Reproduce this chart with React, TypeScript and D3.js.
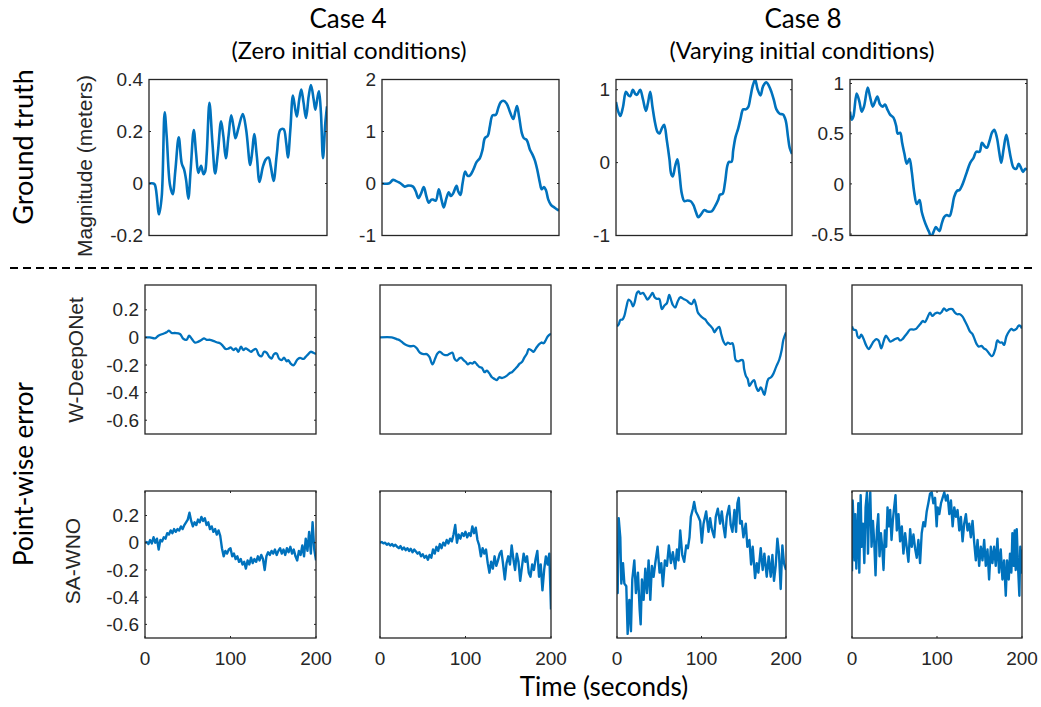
import * as d3 from "d3";

// ---- text ----
const caseTitles = ["Case 4", "Case 8"];
const caseSubtitles = ["(Zero initial conditions)", "(Varying initial conditions)"];
const groupLabels = ["Ground truth", "Point-wise error"];
const rowLabels = ["Magnitude (meters)", "W-DeepONet", "SA-WNO"];
const xLabel = "Time (seconds)";

// ---- ticks ----
const timeTicks = [0, 100, 200];
const gtTicks = [
  [-0.2, 0, 0.2, 0.4],
  [-1, 0, 1, 2],
  [-1, 0, 1],
  [-0.5, 0, 0.5, 1],
];
const errTicks = [0.2, 0, -0.2, -0.4, -0.6];

// ---- ground truth: [time, magnitude] ----
const gtCase4A: [number, number][] = [
  [0, 0], [5, 0], [6.8, -0.006], [11.3, -0.119], [14.3, -0.05], [17.6, 0.274], [19.9, 0.18], [23.6, -0.006],
  [26.6, -0.041], [29.6, 0.05], [33.4, 0.178], [36.8, 0.077], [39.4, 0.054], [41.7, 0.013], [44.2, -0.058],
  [46.8, 0.052], [50.3, 0.206], [52.9, 0.116], [55.5, 0.041], [58.5, 0.068], [61.2, 0.036], [63, 0.045],
  [64.9, 0.116], [67.9, 0.31], [71.3, 0.155], [74.3, 0.039], [77.3, 0.116], [81, 0.239], [83.6, 0.181],
  [86.3, 0.097], [89.3, 0.181], [92.3, 0.262], [94.9, 0.219], [97.2, 0.174], [100.5, 0.213], [105.4, 0.267],
  [109.2, 0.206], [113.7, 0.071], [116, 0.123], [118.2, 0.19], [121.2, 0.103], [124.2, 0.006], [128, 0.065],
  [131.3, 0.093], [134.3, 0.1], [136.9, 0.065], [140, 0.01], [143.7, 0.116], [147.5, 0.206], [151.2, 0.209],
  [154.2, 0.155], [156.1, 0.1], [158.8, 0.206], [161.7, 0.338], [164.4, 0.284], [166.2, 0.258], [168.8, 0.323],
  [171.1, 0.361], [173.7, 0.31], [176.4, 0.252], [179.4, 0.335], [182, 0.379], [185, 0.323], [186.9, 0.284],
  [189.5, 0.335], [191, 0.355], [193.2, 0.271], [195.5, 0.097], [198.1, 0.232], [200, 0.297],
];
const gtCase4B: [number, number][] = [
  [0, 0], [7.5, 0], [9.4, 0.02], [12.5, 0.07], [15.5, 0.05], [19.2, 0.02], [21.9, -0.01], [25.7, -0.06],
  [29.4, -0.04], [35.1, -0.06], [38.1, -0.15], [41.1, -0.28], [44.2, -0.19], [47.2, -0.07], [50.2, -0.25],
  [52.8, -0.37], [55.8, -0.31], [57.7, -0.31], [60.8, -0.33], [64.2, -0.11], [67.2, -0.31], [69.8, -0.46],
  [72.8, -0.28], [75.5, -0.17], [77.7, -0.24], [80.4, -0.19], [84.2, -0.045], [86.1, -0.15], [88.7, -0.22],
  [91, 0], [94, 0.23], [96.6, 0.15], [99.2, 0.15], [103, 0.26], [106.8, 0.41], [110.6, 0.49], [113.6, 0.65],
  [116.2, 0.87], [119.6, 0.92], [121.9, 1.1], [124.9, 1.31], [128.7, 1.32], [131.3, 1.45], [134, 1.56],
  [137, 1.59], [140.8, 1.54], [144.5, 1.38], [148.3, 1.24], [150.6, 1.38], [152.6, 1.49], [154.9, 1.29],
  [158, 0.97], [160.3, 0.87], [163.4, 0.84], [167.2, 0.65], [170.2, 0.55], [172.8, 0.44], [175.5, 0.26],
  [178.5, 0.006], [180.4, -0.11], [183, -0.07], [185.3, -0.13], [187.9, -0.31], [190.9, -0.41], [195.5, -0.47],
  [200, -0.52],
];
const gtCase8A: [number, number][] = [
  [0, 0.83], [2.3, 0.71], [4.9, 0.64], [7.9, 0.76], [11.3, 0.97], [14.3, 0.92], [16.2, 0.91], [19.2, 1.0],
  [21.9, 0.94], [23.8, 0.93], [27.5, 1.0], [30.6, 0.87], [34, 0.71], [36.2, 0.81], [38.9, 0.97], [41.5, 0.76],
  [44.5, 0.54], [47.2, 0.42], [49.4, 0.4], [52.1, 0.47], [54.7, 0.52], [57.7, 0.31], [60.8, 0.04], [62.6, -0.15],
  [64.5, -0.19], [67.2, -0.05], [69.8, 0.045], [72.1, -0.15], [74.7, -0.42], [77.7, -0.53], [81.1, -0.52],
  [84.9, -0.53], [87.9, -0.58], [90.6, -0.67], [93.6, -0.75], [96.6, -0.71], [100.4, -0.65], [103.8, -0.67],
  [108.7, -0.67], [112.5, -0.6], [116.2, -0.51], [118.1, -0.44], [121.1, -0.43], [123.8, -0.28], [126.4, -0.05],
  [128.3, 0.01], [131.3, 0.01], [133.2, 0.17], [135.8, 0.35], [138.9, 0.47], [141.5, 0.6], [144.5, 0.73],
  [147.5, 0.73], [150.2, 0.76], [152.8, 0.9], [155.1, 1.04], [158.1, 1.14], [160.8, 1.01], [164.2, 0.92],
  [167.2, 1.05], [170.9, 1.1], [173.9, 1.05], [176.6, 0.97], [179.6, 0.85], [182.3, 0.73], [186, 0.67],
  [189.8, 0.66], [192.8, 0.58], [195.5, 0.35], [197.4, 0.2], [200, 0.12],
];
const gtCase8B: [number, number][] = [
  [0, 0.72], [1.9, 0.64], [3.8, 0.67], [7.5, 0.9], [10.6, 0.82], [13.2, 0.72], [15.8, 0.77], [20, 0.96],
  [22.6, 0.87], [25.7, 0.77], [28.3, 0.82], [30.9, 0.87], [34, 0.79], [37, 0.77], [39.6, 0.79], [42.3, 0.74],
  [45.3, 0.69], [49.1, 0.66], [52.1, 0.58], [54, 0.5], [56.6, 0.51], [58.9, 0.41], [61.5, 0.3], [64.2, 0.2],
  [67.2, 0.25], [69.8, 0.12], [72.5, -0.08], [75.5, -0.2], [78.5, -0.16], [81.1, -0.28], [83.8, -0.36],
  [86.8, -0.43], [89.4, -0.48], [91.7, -0.53], [94.3, -0.48], [97, -0.43], [98.9, -0.45], [101.1, -0.47],
  [103.8, -0.39], [106.4, -0.33], [109.4, -0.31], [112.5, -0.32], [115.1, -0.25], [117.7, -0.13], [120.8, -0.07],
  [123.8, -0.06], [126.4, -0.02], [129.4, 0.05], [132.1, 0.12], [135.8, 0.21], [139.6, 0.26], [142.6, 0.32],
  [146.4, 0.32], [149.1, 0.41], [151.7, 0.38], [154.7, 0.36], [157.7, 0.43], [160.4, 0.51], [163, 0.54],
  [166, 0.46], [168.7, 0.31], [170.9, 0.21], [173.6, 0.35], [176.6, 0.49], [179.2, 0.38], [181.9, 0.25],
  [184.9, 0.16], [187.9, 0.15], [190.6, 0.2], [193.2, 0.16], [195.5, 0.12], [198.1, 0.15], [200, 0.14],
];

// ---- W-DeepONet point-wise error: [time, error] ----
const wdonCase4A: [number, number][] = [
  [0, 0], [5.8, 0], [11.7, -0.007], [15.6, 0.012], [21.4, 0.027], [25.3, 0.037], [28, 0.049], [31.2, 0.032],
  [35, 0.032], [40.9, 0.025], [44.8, -0.01], [48.7, -0.017], [51.5, 0.012], [54.6, -0.01], [58.5, -0.037],
  [62.4, -0.03], [66.3, -0.017], [69, -0.007], [72.1, -0.017], [76, -0.017], [79.9, -0.025], [83.8, -0.035],
  [87.7, -0.042], [90.8, -0.059], [94.3, -0.084], [97.5, -0.081], [100.2, -0.072], [103.3, -0.091],
  [106.4, -0.079], [109.2, -0.104], [112.3, -0.067], [115, -0.091], [117.7, -0.079], [120.9, -0.091],
  [124, -0.104], [126.7, -0.091], [129.8, -0.084], [133.3, -0.128], [136.5, -0.136], [139.2, -0.104],
  [142.3, -0.111], [145.4, -0.141], [148.1, -0.153], [150.9, -0.121], [154, -0.116], [156.7, -0.153],
  [159.8, -0.165], [162.6, -0.146], [165.7, -0.173], [167.6, -0.165], [170.4, -0.19], [173.5, -0.202],
  [175.4, -0.19], [178.2, -0.16], [181.3, -0.148], [185.2, -0.156], [187.9, -0.141], [191, -0.121],
  [193.8, -0.104], [196.9, -0.111], [200, -0.121],
];
const wdonCase4B: [number, number][] = [
  [0, 0], [13.7, 0], [19.5, -0.012], [23.4, -0.022], [27.3, -0.042], [31.3, -0.057], [35.2, -0.064],
  [39.8, -0.062], [43, -0.079], [46.9, -0.111], [50.8, -0.121], [54.7, -0.121], [57.8, -0.141], [61.3, -0.195],
  [64.5, -0.153], [67.2, -0.116], [70.3, -0.104], [73.4, -0.121], [76.2, -0.128], [78.9, -0.128], [82, -0.116],
  [84.8, -0.111], [87.1, -0.153], [89.8, -0.17], [92.6, -0.153], [94.9, -0.146], [97.7, -0.165], [100.4, -0.178],
  [102.7, -0.195], [105.5, -0.185], [108.2, -0.19], [110.5, -0.178], [113.3, -0.195], [116.4, -0.215],
  [119.1, -0.22], [122.3, -0.252], [125, -0.24], [127.7, -0.259], [130.9, -0.289], [134, -0.301], [136.7, -0.309],
  [139.5, -0.289], [142.6, -0.294], [145.3, -0.289], [148.4, -0.277], [151.6, -0.259], [154.3, -0.252],
  [157, -0.235], [160.2, -0.215], [163.3, -0.19], [166, -0.178], [168.8, -0.146], [171.9, -0.116],
  [173.8, -0.086], [176.6, -0.091], [179.7, -0.104], [182.4, -0.079], [185.5, -0.054], [188.7, -0.037],
  [191.4, -0.042], [193.4, -0.025], [196.1, 0.007], [200, 0.027],
];
const wdonCase8A: [number, number][] = [
  [0, 0.081], [2, 0.094], [3.9, 0.126], [6.7, 0.131], [8.7, 0.156], [11, 0.217], [13.8, 0.274], [16.5, 0.259],
  [18.9, 0.225], [20.9, 0.254], [23.6, 0.323], [25.6, 0.333], [27.6, 0.316], [30.7, 0.323], [33.5, 0.299],
  [36.2, 0.274], [39.4, 0.299], [42.1, 0.323], [44.5, 0.291], [47.2, 0.279], [50, 0.279], [53.1, 0.205],
  [55.9, 0.23], [59.1, 0.249], [61.8, 0.309], [64.2, 0.267], [66.1, 0.235], [68.9, 0.217], [71.7, 0.259],
  [74.8, 0.291], [78.7, 0.279], [82.7, 0.267], [85.8, 0.249], [88.6, 0.242], [91.3, 0.274], [93.7, 0.23],
  [95.7, 0.18], [98.4, 0.16], [101.2, 0.143], [104.3, 0.131], [107.1, 0.106], [110.2, 0.086], [113.4, 0.062],
  [115.4, 0.037], [118.1, 0.062], [120.9, 0.077], [123.2, 0.027], [126, -0.03], [128.7, -0.054], [131.1, -0.037],
  [133.9, -0.047], [136.6, -0.042], [138.6, -0.091], [140.6, -0.165], [143.7, -0.173], [146.5, -0.165],
  [148.8, -0.165], [150.4, -0.227], [152.4, -0.277], [154.7, -0.301], [156.7, -0.351], [159.4, -0.326],
  [162.2, -0.309], [164.6, -0.358], [167.3, -0.388], [170.1, -0.363], [172.4, -0.388], [174.4, -0.417],
  [176.4, -0.363], [179.1, -0.301], [182.3, -0.289], [185, -0.264], [188.2, -0.215], [192.1, -0.16],
  [194.9, -0.091], [196.9, -0.017], [200, 0.037],
];
const wdonCase8B: [number, number][] = [
  [0, 0.081], [2, 0.057], [4.7, 0.052], [6.6, 0.007], [8.6, -0.005], [10.9, 0.02], [13.7, -0.012], [16.4, -0.054],
  [19.5, -0.084], [22.3, -0.062], [25.4, -0.03], [28.5, -0.012], [31.3, -0.022], [34.4, -0.079], [37.1, -0.03],
  [39.8, 0.012], [42.2, -0.005], [44.9, -0.03], [48, -0.022], [50.8, -0.012], [53.9, -0.005], [56.6, -0.022],
  [59.4, -0.012], [62.5, 0.012], [65.2, 0.032], [68.4, 0.057], [72.3, 0.057], [75.4, 0.062], [78.1, 0.081],
  [80.9, 0.101], [83.2, 0.119], [85.9, 0.111], [88.7, 0.143], [91.8, 0.18], [94.5, 0.156], [97.7, 0.173],
  [100.4, 0.18], [103.5, 0.173], [105.5, 0.185], [108.2, 0.21], [111.3, 0.193], [114.5, 0.205], [118, 0.205],
  [121.1, 0.18], [123.8, 0.168], [127, 0.168], [130.1, 0.151], [132.8, 0.119], [135.9, 0.081], [138.7, 0.044],
  [141.4, 0.027], [143.8, -0.005], [146.5, -0.047], [149.2, -0.067], [152.3, -0.062], [155.1, -0.079],
  [158.2, -0.091], [161.3, -0.116], [164.1, -0.136], [166, -0.128], [168.8, -0.079], [171.1, -0.022],
  [173.8, -0.037], [176.6, -0.037], [178.9, -0.054], [181.6, 0.007], [184.8, 0.044], [187.5, 0.062],
  [190.2, 0.052], [193.4, 0.062], [196.1, 0.086], [198.4, 0.081], [200, 0.064],
];

// ---- SA-WNO point-wise error ----
// sampled every 2 s from 0 to 200
const sawnoCase4A = [
  0, 0.005, -0.01, 0.02, -0.005, 0.04, 0, 0.03, -0.05, 0.02, 0.01, 0.04, 0.03, 0.07, 0.06, 0.09, 0.07, 0.1, 0.08,
  0.1, 0.09, 0.12, 0.1, 0.13, 0.15, 0.17, 0.22, 0.16, 0.12, 0.15, 0.13, 0.17, 0.15, 0.19, 0.16, 0.18, 0.13, 0.15,
  0.1, 0.12, 0.08, 0.1, 0.06, 0.09, 0.05, -0.04, -0.1, -0.06, -0.08, -0.05, -0.04, -0.1, -0.08, -0.12, -0.1,
  -0.14, -0.12, -0.16, -0.14, -0.19, -0.13, -0.16, -0.11, -0.15, -0.12, -0.14, -0.1, -0.13, -0.09, -0.12, -0.2,
  -0.1, -0.07, -0.09, -0.06, -0.08, -0.05, -0.09, -0.06, -0.04, -0.08, -0.05, -0.09, -0.04, -0.07, -0.03, -0.08,
  -0.05, -0.1, -0.13, -0.06, -0.09, -0.02, -0.1, 0.03, -0.06, 0.08, -0.08, 0.15, -0.05, -0.13,
];
const sawnoCase4B = [
  0, 0.005, -0.005, 0, -0.015, -0.005, -0.02, -0.01, -0.025, -0.015, -0.03, -0.04, -0.025, -0.05, -0.035, -0.055,
  -0.04, -0.06, -0.045, -0.07, -0.05, -0.065, -0.08, -0.07, -0.1, -0.085, -0.11, -0.095, -0.125, -0.09, -0.11,
  -0.05, -0.08, -0.03, -0.06, -0.01, -0.04, 0, -0.02, 0.02, -0.005, 0.03, 0.01, 0.06, 0.13, 0, 0.06, 0.03, 0.07,
  0.05, 0.08, 0.04, 0.07, 0.05, 0.12, 0.07, 0.11, 0.02, -0.02, -0.1, -0.04, -0.08, -0.05, -0.15, -0.22, -0.14,
  -0.19, -0.1, -0.17, -0.13, -0.08, -0.06, -0.16, -0.27, -0.15, -0.1, -0.16, -0.02, -0.12, -0.2, -0.08, -0.14,
  -0.28, -0.18, -0.08, -0.14, -0.1, -0.22, -0.25, -0.16, -0.2, -0.12, -0.06, -0.25, -0.16, -0.35, -0.2, -0.1,
  -0.16, -0.08, -0.49,
];
const sawnoCase8A: [number, number][] = [
  [0, -0.1], [0.8, -0.37], [2, 0.18], [3.9, 0.04], [5.1, -0.3], [7.1, -0.15], [8.7, -0.3], [11, -0.32],
  [12.6, -0.67], [14.6, -0.42], [16.5, -0.65], [18.1, -0.27], [20.5, -0.13], [22.4, -0.37], [24.8, -0.22],
  [26.8, -0.49], [28, -0.6], [29.5, -0.27], [31.5, -0.42], [33.5, -0.19], [35.4, -0.37], [37.4, -0.13],
  [39.4, -0.42], [41.3, -0.17], [43.3, -0.25], [45.3, -0.15], [48, -0.03], [50.4, -0.22], [52.4, -0.15],
  [54.3, -0.32], [56.7, -0.13], [59.1, -0.17], [61.4, -0.02], [63.8, -0.15], [66.1, -0.07], [68.9, -0.19],
  [70.9, -0.05], [72.8, -0.13], [74.8, 0.09], [77.2, -0.09], [79.5, -0.14], [81.9, -0.02], [83.9, -0.04],
  [85.8, 0.04], [87.4, 0.19], [89.8, 0.25], [91.3, 0.3], [93.3, 0.23], [95.7, 0.2], [98.4, 0.16], [100.4, 0],
  [102.4, 0.14], [105.5, 0.23], [108.3, 0.08], [110.2, 0.18], [112.2, 0.1], [115, 0.04], [116.9, 0.19],
  [119.3, 0.25], [122, 0.14], [124, 0.23], [126, 0.12], [128, 0.04], [129.9, 0.19], [132.7, 0.27], [134.6, 0.13],
  [136.6, 0.08], [139, 0.24], [140.9, 0.08], [142.5, 0.29], [144.1, 0.33], [145.7, 0.14], [147.6, 0.16],
  [149.6, 0.04], [152.4, 0.14], [154.3, -0.03], [156.7, 0.02], [158.7, -0.16], [160.6, -0.03], [163.4, -0.26],
  [165.4, -0.15], [167.3, -0.22], [170.1, -0.04], [172.4, -0.2], [174.4, -0.08], [177.2, -0.25], [179.5, -0.1],
  [181.9, -0.25], [183.9, -0.09], [185.8, -0.28], [187.8, -0.17], [189.8, 0.03], [191.7, -0.08], [193.7, -0.34],
  [195.7, -0.02], [197.6, -0.15], [200, -0.2],
];
const sawnoCase8B: [number, number][] = [
  [0, -0.21], [0.8, 0.31], [2, 0.12], [3.1, -0.13], [3.9, 0.21], [5.1, -0.19], [6.3, 0.02], [7.4, 0.29],
  [8.6, -0.22], [10.2, 0.35], [11.3, -0.03], [12.9, 0.14], [14.5, -0.15], [16, 0.26], [17.6, 0.37], [18.8, -0.08],
  [19.9, 0.21], [21.5, 0.37], [23, -0.03], [24.6, 0.16], [26.2, 0], [27.7, -0.24], [29.3, 0.09], [30.9, 0.21],
  [32.4, -0.1], [34, 0.07], [35.5, -0.03], [37.1, -0.2], [38.7, 0.09], [40.2, -0.03], [41.8, 0.26], [43.4, 0.12],
  [44.9, 0.24], [46.5, 0.02], [48, 0.16], [49.6, 0.26], [51.2, 0.35], [52.7, 0.09], [54.7, 0.21], [56.6, 0.01],
  [58.6, 0.12], [60.5, -0.08], [62.5, 0.07], [64.5, -0.04], [66.4, -0.14], [68.4, 0.1], [70.3, -0.03],
  [72.3, 0.06], [74.2, -0.04], [76.2, -0.11], [78.1, 0.02], [80.1, -0.15], [82, 0.07], [84, 0.15], [85.9, 0.12],
  [87.9, 0.23], [89.8, 0.29], [91.8, 0.36], [93.8, 0.37], [95.7, 0.29], [97.7, 0.33], [99.6, 0.12], [100.8, 0.26],
  [102.7, 0.21], [104.7, 0.29], [106.6, 0.33], [108.6, 0.37], [110.5, 0.31], [112.5, 0.35], [114.5, 0.21],
  [116.4, 0.31], [118.4, 0.12], [120.3, 0.26], [122.3, 0.19], [124.2, 0.24], [126.2, 0.09], [128.1, 0.19],
  [130.1, 0.01], [132, 0.14], [134, 0.21], [135.9, 0.09], [137.9, 0.14], [139.8, 0.04], [141.8, 0.16],
  [143.8, 0], [145.7, -0.13], [147.7, 0.02], [149.6, -0.17], [151.6, -0.03], [153.5, -0.13], [155.5, 0.02],
  [157.4, -0.17], [159.4, -0.05], [161.3, -0.27], [163.3, -0.03], [165.2, -0.15], [167.2, -0.03], [169.1, -0.17],
  [171.1, 0.03], [173, -0.22], [175, -0.05], [177, -0.27], [178.9, -0.13], [180.9, -0.39], [182.4, -0.13],
  [184.4, -0.27], [185.9, -0.08], [187.5, -0.22], [188.7, 0.07], [190.2, -0.17], [191.4, 0.09], [192.6, -0.2],
  [193.8, 0.1], [195.3, -0.17], [196.9, -0.39], [198, -0.03], [199.2, -0.22], [200, -0.05],
];

const everyTwoSeconds = (vals: number[]): [number, number][] =>
  vals.map((v, i) => [i * 2, v]);

const W = 1041;
const H = 707;
const blue = "#0072BD";
const ink = "#262626";
const tickFont = "'Liberation Sans', Arial, sans-serif";
const titleFont = "Lato, 'Open Sans', sans-serif";

type PanelProps = {
  id: string;
  x0: number;
  x1: number;
  y0: number;
  y1: number;
  yDomain: [number, number];
  data: [number, number][];
  yTicks?: number[];
  xTicks?: boolean;
  smooth?: boolean;
  lw: number;
};

function Panel({ id, x0, x1, y0, y1, yDomain, data, yTicks, xTicks, smooth, lw }: PanelProps) {
  const x = d3.scaleLinear().domain([0, 200]).range([x0, x1]);
  const y = d3.scaleLinear().domain(yDomain).range([y1, y0]);
  const line = d3
    .line<[number, number]>()
    .x((d) => x(d[0]))
    .y((d) => y(d[1]))
    .curve(smooth ? d3.curveCatmullRom.alpha(0.5) : d3.curveLinear);
  const tl = 2;
  return (
    <g>
      <clipPath id={id}>
        <rect x={x0} y={y0} width={x1 - x0} height={y1 - y0} />
      </clipPath>
      <path
        d={line(data) || ""}
        fill="none"
        stroke={blue}
        strokeWidth={lw}
        strokeLinejoin="round"
        clipPath={`url(#${id})`}
      />
      {yTicks &&
        yTicks.map((t) => (
          <g key={t}>
            <line x1={x0} x2={x0 + tl} y1={y(t)} y2={y(t)} stroke={ink} />
            <line x1={x1} x2={x1 - tl} y1={y(t)} y2={y(t)} stroke={ink} />
            <text
              x={x0 - 6}
              y={y(t)}
              dy="0.35em"
              textAnchor="end"
              fontSize={19}
              fontFamily={tickFont}
              fill={ink}
            >
              {String(t)}
            </text>
          </g>
        ))}
      {xTicks &&
        timeTicks.map((t) => (
          <g key={t}>
            <line x1={x(t)} x2={x(t)} y1={y1} y2={y1 - tl} stroke={ink} />
            <line x1={x(t)} x2={x(t)} y1={y0} y2={y0 + tl} stroke={ink} />
            <text x={x(t)} y={y1 + 27} textAnchor="middle" fontSize={19} fontFamily={tickFont} fill={ink}>
              {String(t)}
            </text>
          </g>
        ))}
      <rect x={x0} y={y0} width={x1 - x0} height={y1 - y0} fill="none" stroke={ink} strokeWidth={1.3} />
    </g>
  );
}

export default function App() {
  const topCols: [number, number][] = [
    [149, 327],
    [382, 559],
    [616, 792],
    [850, 1027],
  ];
  const lowCols: [number, number][] = [
    [145, 316],
    [380, 551],
    [617, 786],
    [852, 1022],
  ];
  const topRow: [number, number] = [79.5, 235.5];
  const midRow: [number, number] = [285, 434];
  const lowRow: [number, number] = [491, 638];

  const gtData = [gtCase4A, gtCase4B, gtCase8A, gtCase8B];
  const gtDomains: [number, number][] = [
    [-0.2, 0.4],
    [-1, 2],
    [-1, 1.14],
    [-0.514, 1.04],
  ];
  const wdonData = [wdonCase4A, wdonCase4B, wdonCase8A, wdonCase8B];
  const sawnoData = [everyTwoSeconds(sawnoCase4A), everyTwoSeconds(sawnoCase4B), sawnoCase8A, sawnoCase8B];
  const errDomain: [number, number] = [-0.7, 0.38];

  return (
    <svg
      width={W}
      height={H}
      style={{ position: "absolute", left: 0, top: 0, background: "#fff" }}
    >
      <rect width={W} height={H} fill="#fff" />
      {caseTitles.map((t, i) => (
        <g key={t}>
          <text x={i === 0 ? 348 : 803} y={28} textAnchor="middle" fontSize={26} fontFamily={titleFont} fill="#000">
            {t}
          </text>
          <text x={i === 0 ? 349 : 802} y={59} textAnchor="middle" fontSize={23.5} fontFamily={titleFont} fill="#000">
            {caseSubtitles[i]}
          </text>
        </g>
      ))}
      <text
        transform="translate(33,147) rotate(-90)"
        textAnchor="middle"
        fontSize={27}
        fontFamily={titleFont}
        fill="#000"
      >
        {groupLabels[0]}
      </text>
      <text
        transform="translate(33,474) rotate(-90)"
        textAnchor="middle"
        fontSize={26}
        fontFamily={titleFont}
        fill="#000"
      >
        {groupLabels[1]}
      </text>
      <text transform="translate(92,166) rotate(-90)" textAnchor="middle" fontSize={21} fontFamily={tickFont} fill={ink}>
        {rowLabels[0]}
      </text>
      <text transform="translate(83,360) rotate(-90)" textAnchor="middle" fontSize={21} fontFamily={tickFont} fill={ink}>
        {rowLabels[1]}
      </text>
      <text transform="translate(80,561) rotate(-90)" textAnchor="middle" fontSize={21} fontFamily={tickFont} fill={ink}>
        {rowLabels[2]}
      </text>
      <line x1={10} x2={1033} y1={268} y2={268} stroke="#000" strokeWidth={2} strokeDasharray="8 5" />

      {topCols.map((c, i) => (
        <Panel
          key={"gt" + i}
          id={"gt" + i}
          x0={c[0]}
          x1={c[1]}
          y0={topRow[0]}
          y1={topRow[1]}
          yDomain={gtDomains[i]}
          data={gtData[i]}
          yTicks={gtTicks[i]}
          smooth
          lw={2.6}
        />
      ))}
      {lowCols.map((c, i) => (
        <Panel
          key={"wd" + i}
          id={"wd" + i}
          x0={c[0]}
          x1={c[1]}
          y0={midRow[0]}
          y1={midRow[1]}
          yDomain={errDomain}
          data={wdonData[i]}
          yTicks={i === 0 ? errTicks : undefined}
          smooth
          lw={2.3}
        />
      ))}
      {lowCols.map((c, i) => (
        <Panel
          key={"sa" + i}
          id={"sa" + i}
          x0={c[0]}
          x1={c[1]}
          y0={lowRow[0]}
          y1={lowRow[1]}
          yDomain={errDomain}
          data={sawnoData[i]}
          yTicks={i === 0 ? errTicks : undefined}
          xTicks
          lw={2.4}
        />
      ))}
      <text x={604} y={696} textAnchor="middle" fontSize={26} fontFamily={titleFont} fill="#000">
        {xLabel}
      </text>
    </svg>
  );
}
